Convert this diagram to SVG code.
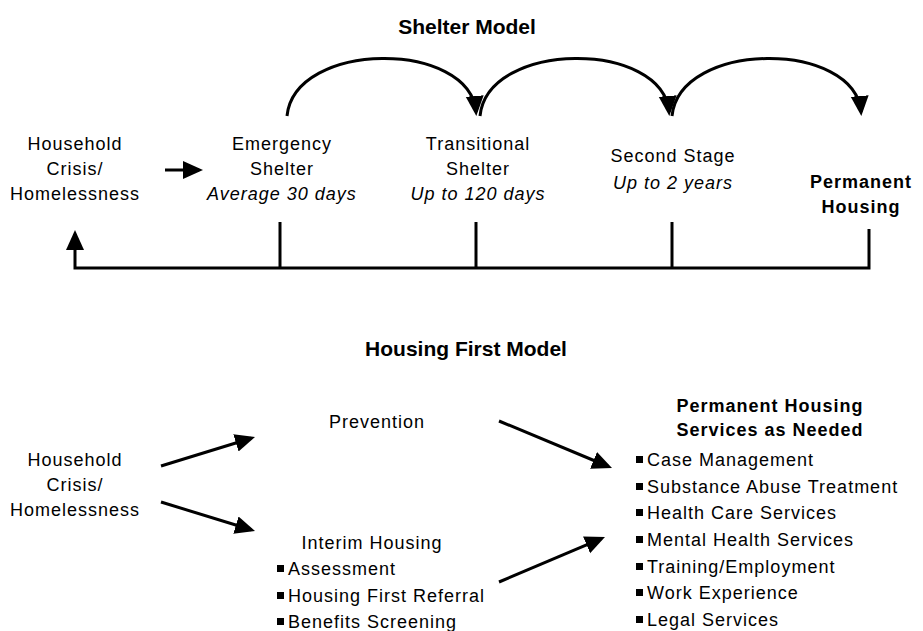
<svg xmlns="http://www.w3.org/2000/svg" xmlns:xlink="http://www.w3.org/1999/xlink" width="923" height="631" viewBox="0 0 923 631">
<style>
.t{font-family:"Liberation Sans",Arial,sans-serif;font-size:18px;letter-spacing:1px;fill:#000}
.c{text-anchor:middle}
.i{font-style:italic}
.b{font-weight:bold}
.h{font-family:"Liberation Sans",Arial,sans-serif;font-size:21px;font-weight:bold;text-anchor:middle;fill:#000}
.ln{fill:none;stroke:#000;stroke-width:3}
.ar{fill:none;stroke:#000;stroke-width:3;marker-end:url(#ah)}
</style>
<defs>
<marker id="ah" markerUnits="userSpaceOnUse" markerWidth="22" markerHeight="20" refX="16" refY="9" orient="auto">
<path d="M0,0 L20,9 L0,18 Z" fill="#000"/>
</marker>
<rect id="bl" width="7" height="7" fill="#000"/>
</defs>
<rect width="923" height="631" fill="#fff"/>

<text id="title1" class="h" x="467" y="34">Shelter Model</text>

<g id="connectors">
<path class="ar" d="M287,116 C295,40 470,40 476,112"/>
<path class="ar" d="M480,116 C488,40 663,40 669,112"/>
<path class="ar" d="M672,116 C680,40 855,40 861,112"/>
<line class="ar" x1="165" y1="170" x2="199" y2="170"/>
<path class="ar" d="M869,229 L869,268 L75,268 L75,234"/>
<line class="ln" x1="280" y1="222" x2="280" y2="268"/>
<line class="ln" x1="476" y1="222" x2="476" y2="268"/>
<line class="ln" x1="672" y1="222" x2="672" y2="268"/>

<line class="ar" x1="161" y1="466" x2="251.2" y2="438.2"/>
<line class="ar" x1="161" y1="502" x2="251.2" y2="529.8"/>
<line class="ar" x1="499" y1="421" x2="608.3" y2="466.5"/>
<line class="ar" x1="499" y1="582" x2="601.3" y2="538.6"/>
</g>

<g id="n-crisis1">
<text class="t c" x="75" y="150">Household</text>
<text class="t c" x="75" y="175">Crisis/</text>
<text class="t c" x="75" y="200">Homelessness</text>
</g>
<g id="n-emergency">
<text class="t c" x="282" y="150">Emergency</text>
<text class="t c" x="282" y="175">Shelter</text>
<text class="t c i" x="282" y="200">Average 30 days</text>
</g>
<g id="n-transitional">
<text class="t c" x="478" y="150">Transitional</text>
<text class="t c" x="478" y="175">Shelter</text>
<text class="t c i" x="478" y="200">Up to 120 days</text>
</g>
<g id="n-second">
<text class="t c" x="673" y="162">Second Stage</text>
<text class="t c i" x="673" y="189">Up to 2 years</text>
</g>
<g id="n-permanent1">
<text class="t c b" x="861" y="188">Permanent</text>
<text class="t c b" x="861" y="213">Housing</text>
</g>

<text id="title2" class="h" x="466" y="356">Housing First Model</text>

<g id="n-crisis2">
<text class="t c" x="75" y="466">Household</text>
<text class="t c" x="75" y="491">Crisis/</text>
<text class="t c" x="75" y="516">Homelessness</text>
</g>
<g id="n-prevention">
<text class="t c" x="377" y="428">Prevention</text>
</g>
<g id="n-interim">
<text class="t c" x="372" y="549">Interim Housing</text>
<use xlink:href="#bl" x="277" y="565"/>
<text class="t" x="288" y="575">Assessment</text>
<use xlink:href="#bl" x="277" y="592"/>
<text class="t" x="288" y="602">Housing First Referral</text>
<use xlink:href="#bl" x="277" y="618"/>
<text class="t" x="288" y="628">Benefits Screening</text>
</g>
<g id="n-permanent2">
<text class="t c b" x="770" y="412">Permanent Housing</text>
<text class="t c b" x="770" y="436">Services as Needed</text>
<use xlink:href="#bl" x="636" y="456"/>
<text class="t" x="647" y="466">Case Management</text>
<use xlink:href="#bl" x="636" y="483"/>
<text class="t" x="647" y="493">Substance Abuse Treatment</text>
<use xlink:href="#bl" x="636" y="509"/>
<text class="t" x="647" y="519">Health Care Services</text>
<use xlink:href="#bl" x="636" y="536"/>
<text class="t" x="647" y="546">Mental Health Services</text>
<use xlink:href="#bl" x="636" y="563"/>
<text class="t" x="647" y="573">Training/Employment</text>
<use xlink:href="#bl" x="636" y="589"/>
<text class="t" x="647" y="599">Work Experience</text>
<use xlink:href="#bl" x="636" y="616"/>
<text class="t" x="647" y="626">Legal Services</text>
</g>
</svg>
